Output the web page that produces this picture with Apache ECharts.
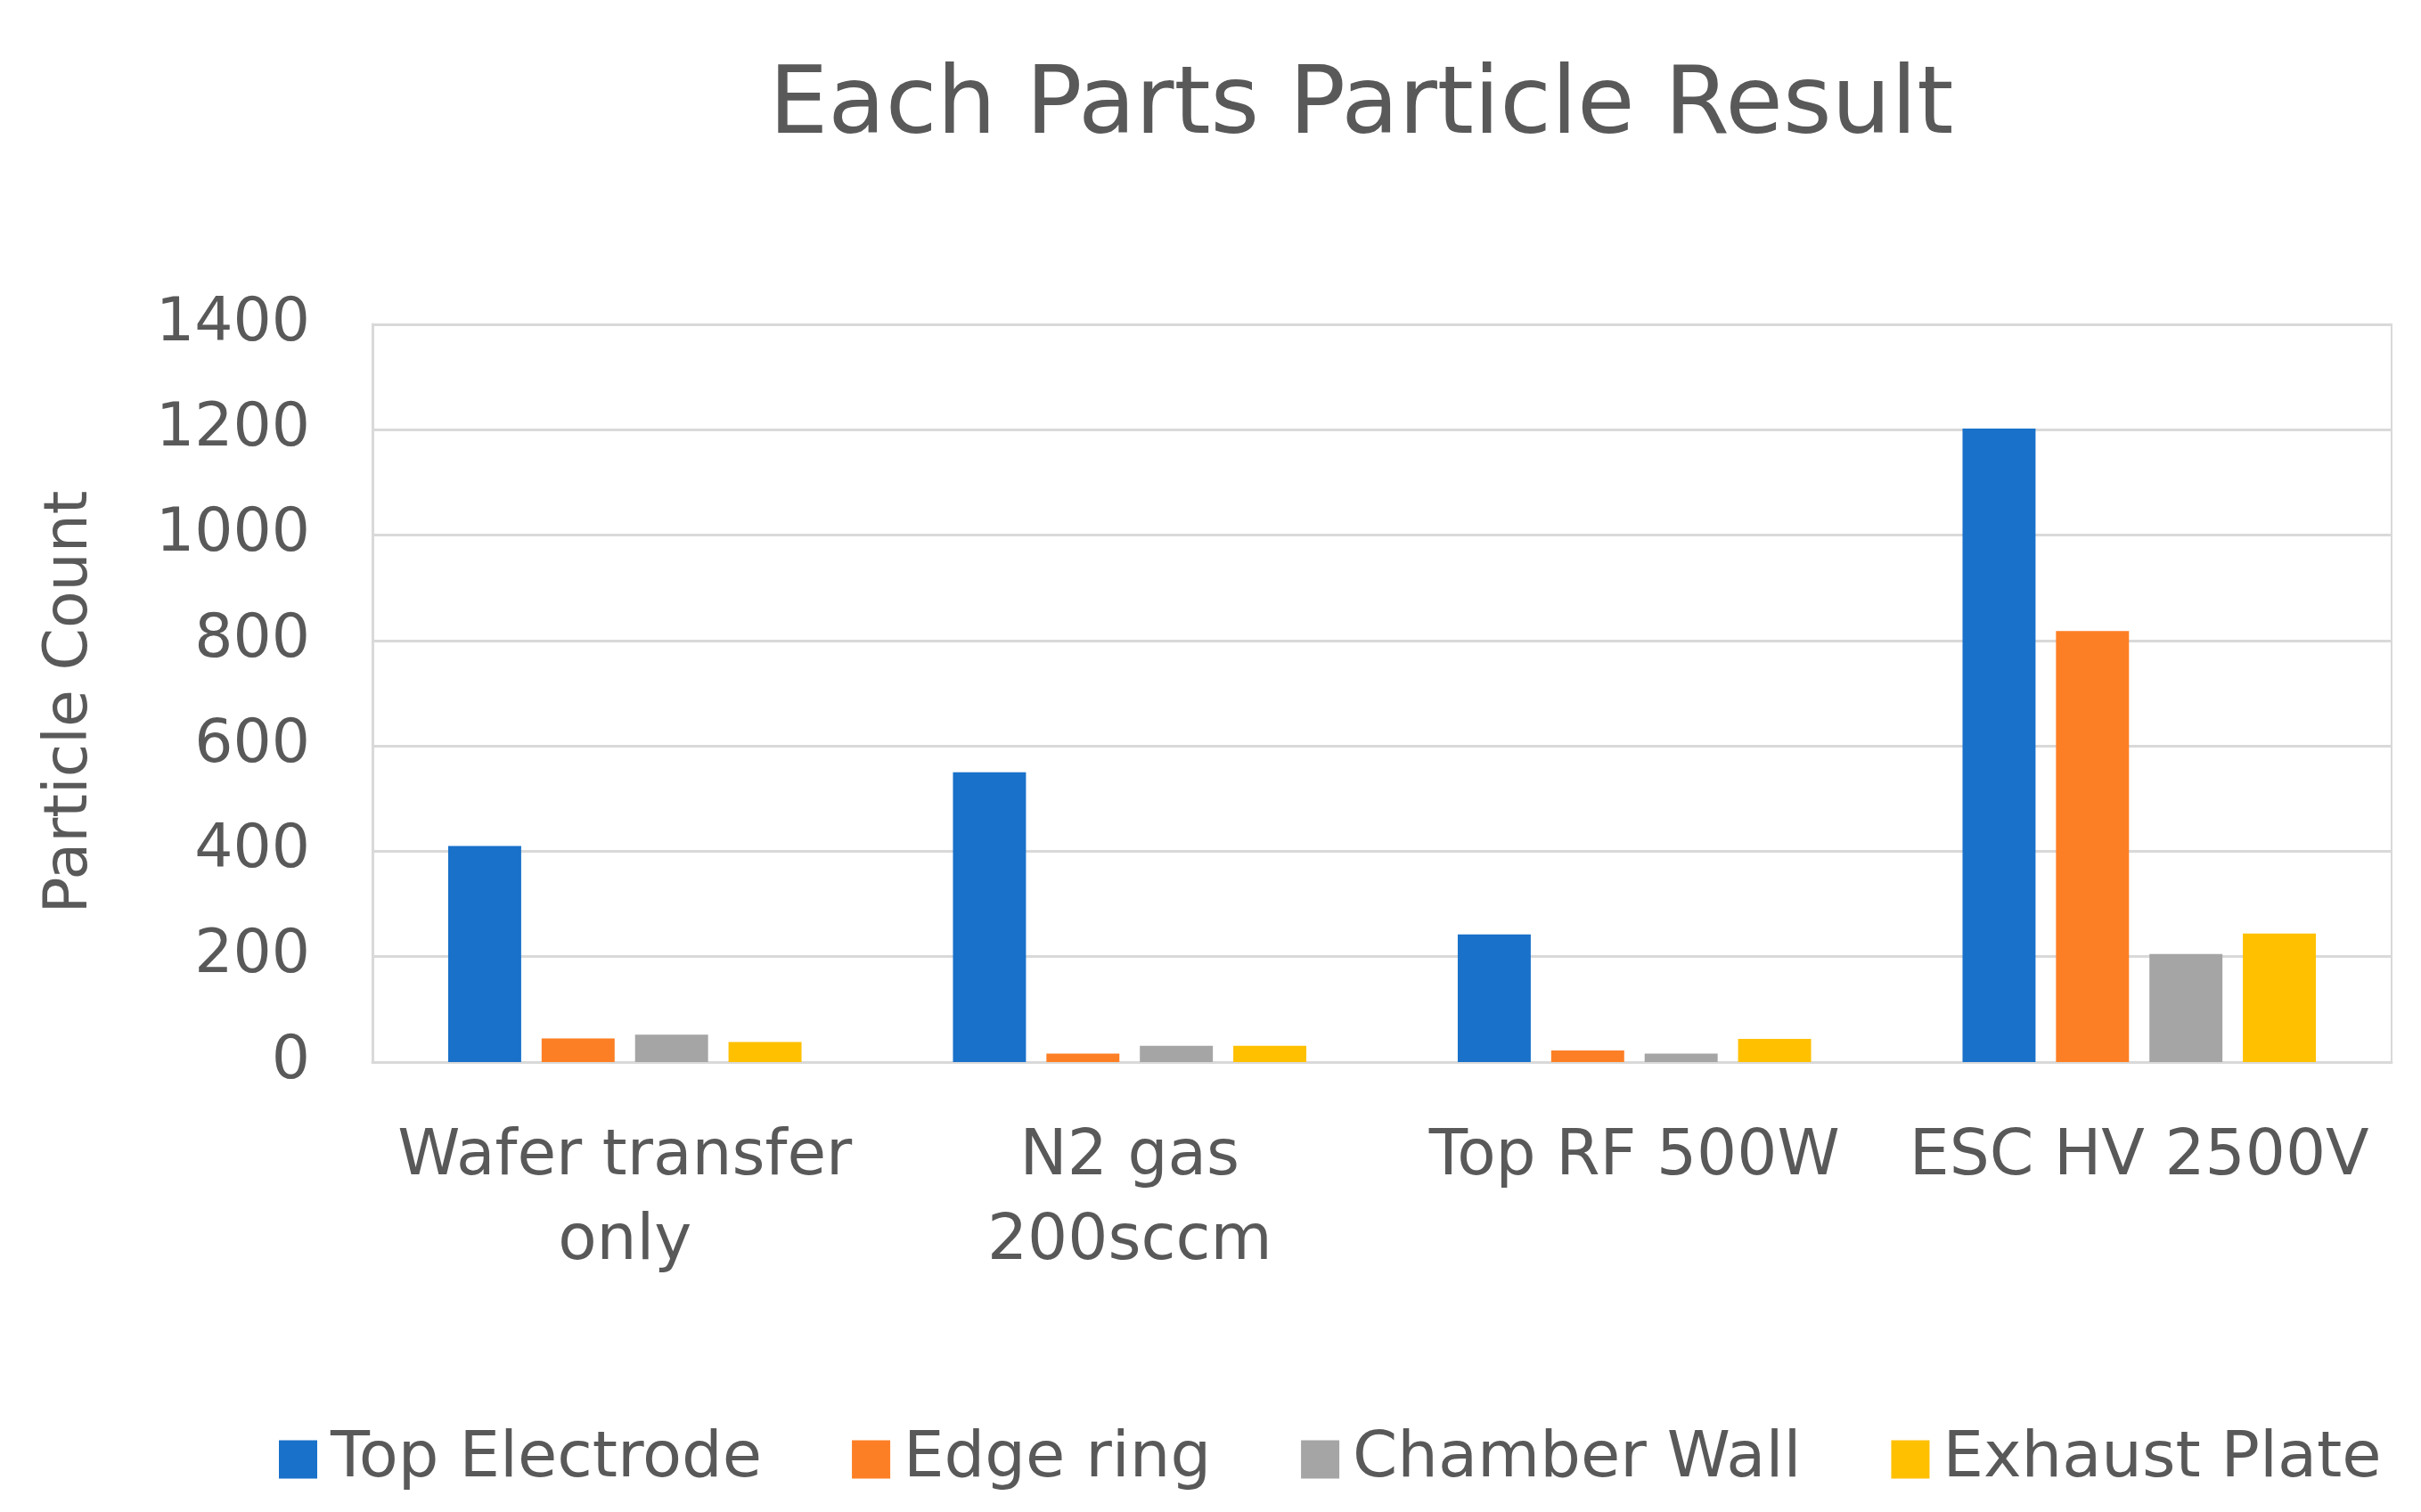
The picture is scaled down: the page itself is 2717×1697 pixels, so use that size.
<!DOCTYPE html>
<html><head><meta charset="utf-8">
<script src="https://cdn.jsdelivr.net/npm/echarts@6/dist/echarts.min.js"></script>
<style>html,body{margin:0;padding:0;background:#fff}#c{width:2717px;height:1697px}</style>
</head><body><div id="c"></div>
<script>
const categories = ["Wafer transfer\nonly", "N2 gas\n200sccm", "Top RF 500W", "ESC HV 2500V"];
const seriesNames = ["Top Electrode", "Edge ring", "Chamber Wall", "Exhaust Plate"];
const topElectrode = [410, 550, 242, 1202];
const edgeRing = [45, 16, 22, 818];
const chamberWall = [52, 31, 16, 205];
const exhaustPlate = [38, 31, 44, 244];
const yTicks = [0, 200, 400, 600, 800, 1000, 1200, 1400];
const colors = ["#1971C9", "#FD7F25", "#A5A5A5", "#FFC000"];
const allValues = [topElectrode, edgeRing, chamberWall, exhaustPlate];

const font = "DejaVu Sans";
const textColor = "#595959";
const chart = echarts.init(document.getElementById('c'));
chart.setOption({
  backgroundColor: '#fff',
  animation: false,
  color: colors,
  title: {
    text: 'Each Parts Particle Result',
    left: 858, top: 64,
    textStyle: {fontFamily: font, fontSize: 105, fontWeight: 'normal', color: textColor}
  },
  legend: {
    bottom: 18, left: 308,
    itemWidth: 43, itemHeight: 43, itemGap: 101,
    icon: 'rect',
    textStyle: {fontFamily: font, fontSize: 72, color: textColor, padding: [0, 0, 0, 10]},
    data: seriesNames
  },
  grid: {
    left: 418, right: 33, top: 364, bottom: 505,
    show: true, borderColor: '#d9d9d9', borderWidth: 2
  },
  xAxis: {
    type: 'category', data: categories,
    axisLine: {lineStyle: {color: '#d9d9d9', width: 3}},
    axisTick: {show: false},
    axisLabel: {fontFamily: font, fontSize: 71, color: textColor, margin: 60, lineHeight: 95, interval: 0}
  },
  yAxis: {
    type: 'value', min: yTicks[0], max: yTicks[yTicks.length - 1], interval: 200,
    name: 'Particle Count', nameLocation: 'middle', nameGap: 305, nameRotate: 90,
    nameTextStyle: {fontFamily: font, fontSize: 68, color: textColor, padding: [0, 20, 0, 0]},
    axisLine: {show: true, lineStyle: {color: '#d9d9d9', width: 3}},
    axisTick: {show: false},
    splitLine: {lineStyle: {color: '#d9d9d9', width: 3}},
    axisLabel: {fontFamily: font, fontSize: 68, color: textColor, margin: 70, formatter: v => String(v)}
  },
  series: seriesNames.map((n, i) => ({
    name: n, type: 'bar', data: allValues[i],
    barGap: '28%', barCategoryGap: '30%',
    itemStyle: {color: colors[i]}
  }))
});
</script></body></html>
